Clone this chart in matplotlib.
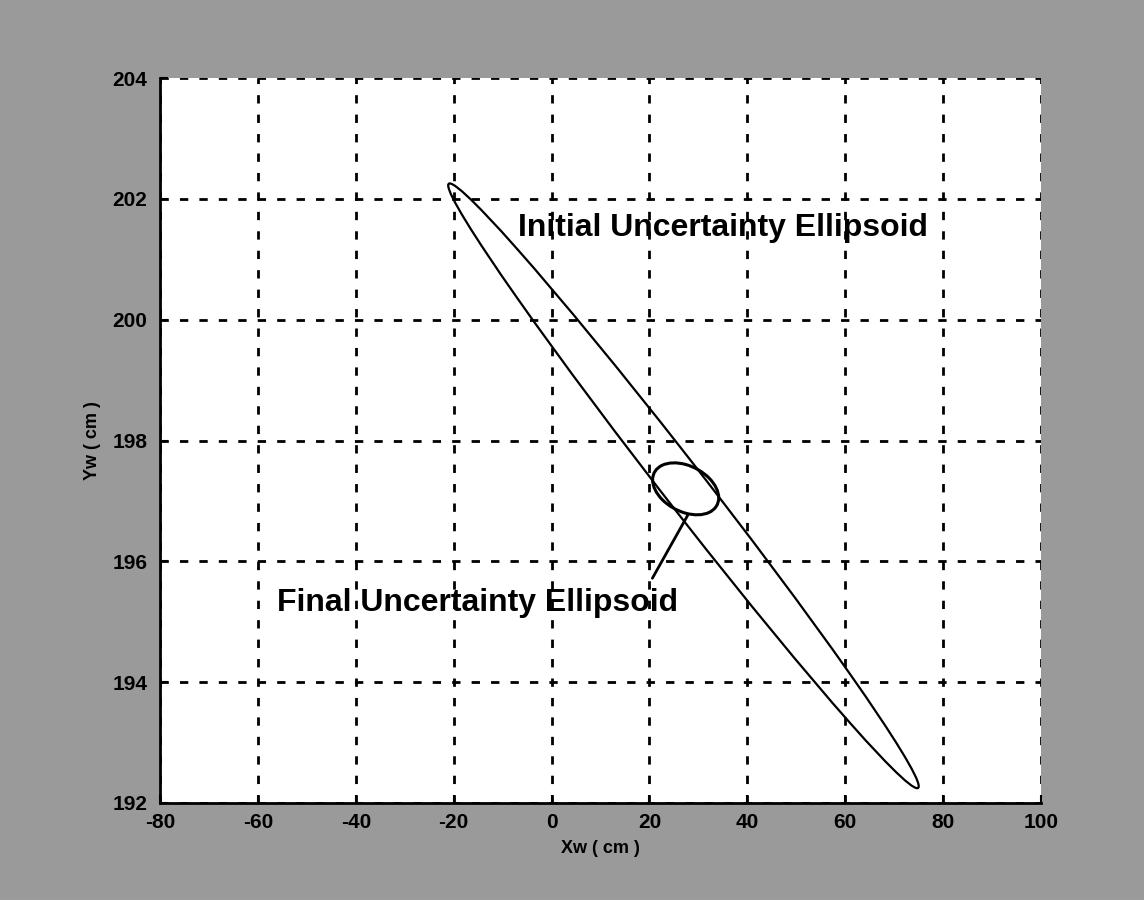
import numpy as np
import matplotlib
matplotlib.use("Agg")
import matplotlib.pyplot as plt
from matplotlib.patches import Ellipse

# axis ticks
x_ticks = [-80, -60, -40, -20, 0, 20, 40, 60, 80, 100]
y_ticks = [192, 194, 196, 198, 200, 202, 204]

# ellipses: centre and two conjugate semi-diameters
init_center = [26.95, 197.25]
init_conj_a = [47.75, -5.005]
init_conj_b = [5.5, 0.0]

final_center = [27.4, 197.2]
final_conj_a = [-2.35, 0.43]
final_conj_b = [6.33, 0.0]

# labels
init_label = "Initial Uncertainty Ellipsoid"
init_label_pos = [-6.9, 201.51]
final_label = "Final Uncertainty Ellipsoid"
final_label_pos = [-56.1, 195.31]
pointer_from = [20.6, 195.72]
pointer_to = [27.8, 196.76]


def conj_to_ellipse(center, a, b, **kw):
    # turn conjugate semi-diameters into a principal-axis Ellipse patch
    m = np.array([[a[0], b[0]], [a[1], b[1]]])
    vals, vecs = np.linalg.eigh(m @ m.T)
    order = np.argsort(vals)[::-1]
    vals, vecs = vals[order], vecs[:, order]
    ang = np.degrees(np.arctan2(vecs[1, 0], vecs[0, 0]))
    return Ellipse(center, 2 * np.sqrt(vals[0]), 2 * np.sqrt(vals[1]),
                   angle=ang, fill=False, edgecolor='black', **kw)


plt.rcParams['font.family'] = ['Liberation Sans', 'DejaVu Sans']
plt.rcParams['axes.unicode_minus'] = False

fig = plt.figure(figsize=(11.44, 9), dpi=100, facecolor='#9a9a9a')
ax = fig.add_axes([160 / 1144, 1 - 803 / 900, 881 / 1144, 725 / 900])
ax.set_facecolor('white')

ax.add_patch(conj_to_ellipse(init_center, init_conj_a, init_conj_b, linewidth=1.6))
ax.add_patch(conj_to_ellipse(final_center, final_conj_a, final_conj_b, linewidth=2.2))

ax.text(init_label_pos[0], init_label_pos[1], init_label, fontsize=23,
        fontweight='bold', ha='left', va='center')
ax.text(final_label_pos[0], final_label_pos[1], final_label, fontsize=23,
        fontweight='bold', ha='left', va='center')
ax.annotate('', xy=pointer_to, xytext=pointer_from,
            arrowprops=dict(arrowstyle='-', color='black', lw=2,
                            shrinkA=0, shrinkB=0))

ax.set_xlim(-80, 100)
ax.set_ylim(192, 204)
ax.set_xticks(x_ticks)
ax.set_yticks(y_ticks)
ax.grid(True, color='black', linestyle=(0, (3, 4)), linewidth=2)
ax.set_axisbelow(True)

ax.tick_params(direction='in', length=6, width=1.5, labelsize=15)
ax.tick_params(axis='x', pad=7)
ax.tick_params(axis='y', pad=9)
for lab in ax.get_xticklabels() + ax.get_yticklabels():
    lab.set_fontweight('bold')

for side in ['top', 'right']:
    ax.spines[side].set_visible(False)
for side in ['left', 'bottom']:
    ax.spines[side].set_linewidth(2)

ax.set_xlabel('Xw ( cm )', fontsize=13, fontweight='bold', labelpad=6)
ax.set_ylabel('Yw ( cm )', fontsize=13, fontweight='bold', labelpad=8)

fig.savefig('out.png', dpi=100, facecolor=fig.get_facecolor())
